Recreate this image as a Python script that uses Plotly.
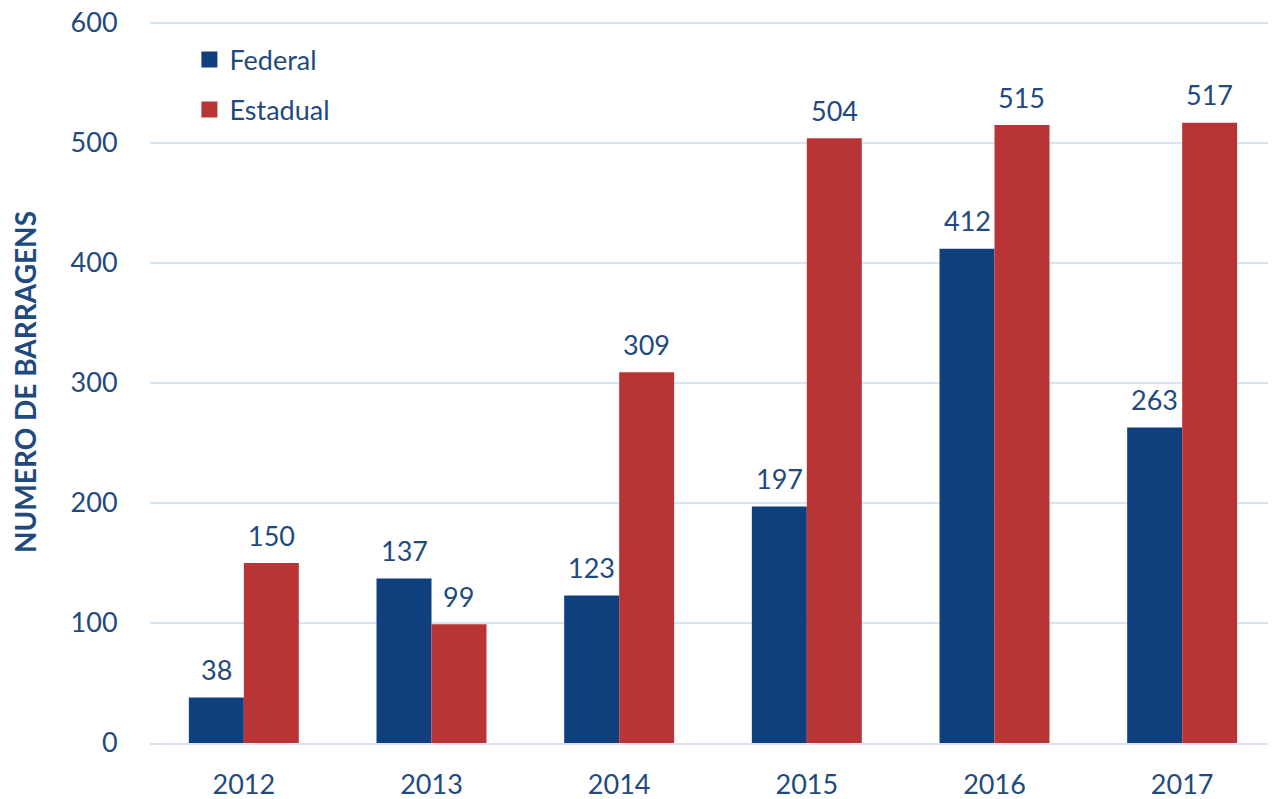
import plotly.graph_objects as go

years = ["2012", "2013", "2014", "2015", "2016", "2017"]
federal = [38, 137, 123, 197, 412, 263]
estadual = [150, 99, 309, 504, 515, 517]
y_ticks = [0, 100, 200, 300, 400, 500, 600]

TXT = "#1F4A7E"
FONT = "Lato"
BLUE = "#0F3F7C"
RED = "#B93535"

fig = go.Figure()
fig.add_trace(go.Bar(name="Federal", x=years, y=federal, marker=dict(color=BLUE, line=dict(width=0)),
                     showlegend=False))
fig.add_trace(go.Bar(name="Estadual", x=years, y=estadual, marker=dict(color=RED, line=dict(width=0)),
                     showlegend=False))
# legend entries with larger square swatches
for name, col, grp in (("Federal", BLUE, "f"), ("Estadual", RED, "e")):
    fig.add_trace(go.Scatter(name=name, x=[years[0]], y=[None], mode="markers",
                             marker=dict(symbol="square", size=19, color=col),
                             legendgroup=grp, showlegend=True))

# page body has an 8px margin; compensate so the plot sits where the reference has it
L, R, T, B = 142, 0, 13, 56
W, H = 1268, 791
bargap = 0.414
cat_px = (W - L - R) / len(years)
bar_px = cat_px * (1 - bargap) / 2

for vals, sign in ((federal, -1), (estadual, 1)):
    for i, v in enumerate(vals):
        fig.add_annotation(x=i, y=v, text=str(v), showarrow=False, xref="x", yref="y",
                           xshift=sign * bar_px / 2, yshift=28,
                           font=dict(family=FONT, size=27, color=TXT))

fig.update_layout(
    width=W, height=H,
    margin=dict(l=L, r=R, t=T, b=B, autoexpand=False),
    paper_bgcolor="white", plot_bgcolor="white",
    barmode="group", bargap=bargap, bargroupgap=0,
    font=dict(family=FONT, color=TXT, size=27),
    legend=dict(x=0.035, y=0.980, xanchor="left", yanchor="top", bgcolor="rgba(0,0,0,0)",
                font=dict(size=27, color=TXT), tracegroupgap=12, itemwidth=30),
    showlegend=True,
    xaxis=dict(type="category", categoryorder="array", categoryarray=years, range=[-0.5, 5.5],
               showline=True, linecolor="#D9E3F1", linewidth=2,
               ticks="outside", ticklen=17, tickcolor="rgba(0,0,0,0)", automargin=False,
               ticklabeloverflow="allow",
               tickfont=dict(size=27, color=TXT)),
    yaxis=dict(range=[0, 601.7], tickvals=y_ticks, showgrid=True, gridcolor="#D9E3F1", gridwidth=2,
               zeroline=False, showline=False, ticks="outside", ticklen=26,
               tickcolor="rgba(0,0,0,0)", automargin=False, ticklabeloverflow="allow",
               tickfont=dict(size=27, color=TXT),
               title=dict(text="<b>NUMERO DE BARRAGENS</b>", font=dict(size=28, color=TXT), standoff=27)),
)

fig.write_html("out.html")
